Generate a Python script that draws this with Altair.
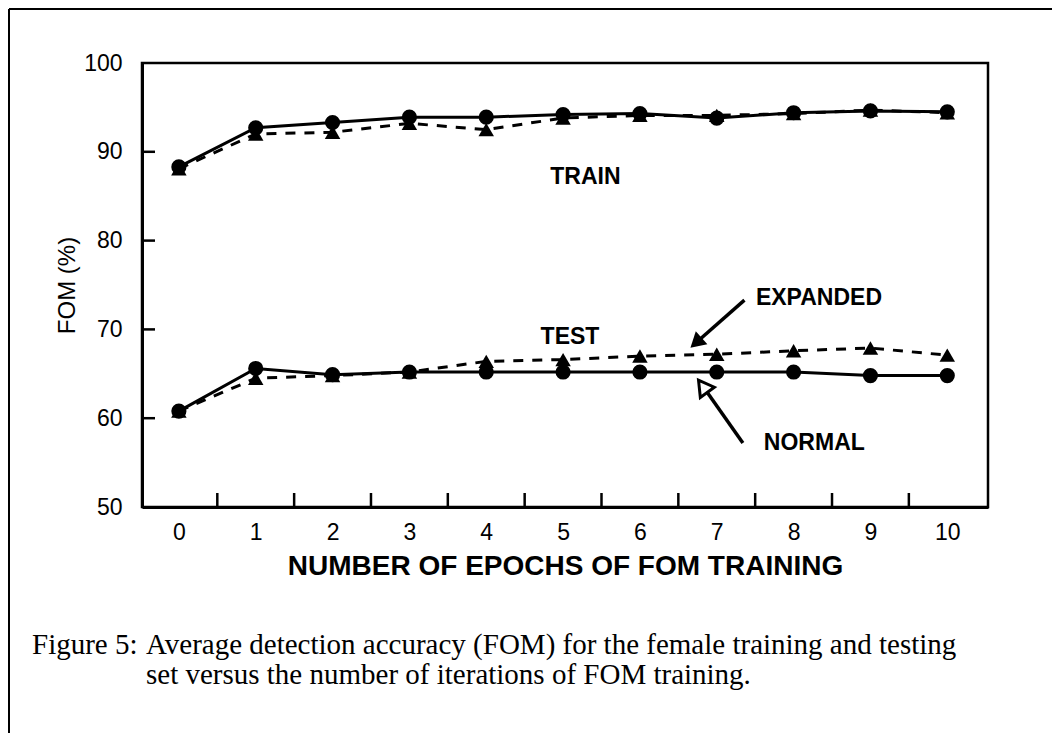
import altair as alt
import pandas as pd

epochs = list(range(11))
train_normal = [88.3, 92.7, 93.3, 93.9, 93.9, 94.2, 94.3, 93.8, 94.4, 94.6, 94.5]
train_expanded = [88.1, 92.0, 92.2, 93.2, 92.5, 93.8, 94.1, 94.1, 94.3, 94.7, 94.4]
test_normal = [60.8, 65.6, 64.9, 65.2, 65.2, 65.2, 65.2, 65.2, 65.2, 64.8, 64.8]
test_expanded = [60.8, 64.5, 64.8, 65.2, 66.4, 66.6, 67.0, 67.2, 67.6, 67.9, 67.1]

x_tick_labels = list(range(11))
y_tick_labels = [50, 60, 70, 80, 90, 100]
inner_y_ticks = [60, 70, 80, 90]
inner_x_ticks = [0.5, 1.5, 2.5, 3.5, 4.5, 5.5, 6.5, 7.5, 8.5, 9.5]

label_text = ["TRAIN", "TEST", "EXPANDED", "NORMAL"]
label_x = [5.29, 5.09, 8.33, 8.27]
label_y = [87.2, 69.1, 73.5, 57.2]

arrow_name = ["EXPANDED", "NORMAL"]
arrow_x0 = [7.36, 7.34]
arrow_y0 = [73.3, 57.2]
arrow_x1 = [6.73, 6.82]
arrow_y1 = [68.5, 63.6]

caption_label = "Figure 5:"
caption_lines = [
    "Average detection accuracy (FOM) for the female training and testing",
    "set versus the number of iterations of FOM training.",
]

W, H = 846, 444
PAD_L, PAD_T, PAD_R, PAD_B = 134, 55, 64, 226
X_TITLE = "NUMBER OF EPOCHS OF FOM TRAINING"
Y_TITLE = "FOM (%)"

rows = []
for i, e in enumerate(epochs):
    rows.append({"epoch": e, "fom": train_normal[i], "set": "train", "method": "normal"})
    rows.append({"epoch": e, "fom": train_expanded[i], "set": "train", "method": "expanded"})
    rows.append({"epoch": e, "fom": test_normal[i], "set": "test", "method": "normal"})
    rows.append({"epoch": e, "fom": test_expanded[i], "set": "test", "method": "expanded"})
df = pd.DataFrame(rows)
normal = df[df.method == "normal"]
expanded = df[df.method == "expanded"]

xscale = alt.Scale(domain=[-0.48, 10.53], nice=False, zero=False)
yscale = alt.Scale(domain=[50, 100], nice=False, zero=False)

x_axis = alt.Axis(
    values=x_tick_labels, format="d", tickSize=0, labelPadding=14, labelFontSize=23,
    labelFont="Liberation Sans", labelColor="black", grid=False,
    domainColor="black", domainWidth=3, titleFont="Liberation Sans",
    titleFontSize=28, titleFontWeight="bold", titleColor="black", titlePadding=8,
)
y_axis = alt.Axis(
    values=y_tick_labels, format="d", tickSize=0, labelPadding=20, labelFontSize=23,
    labelFont="Liberation Sans", labelColor="black", grid=False,
    domainColor="black", domainWidth=3, titleFont="Liberation Sans",
    titleFontSize=24, titleFontWeight="normal", titleColor="black", titlePadding=4,
)


def X(field):
    return alt.X(field, type="quantitative", scale=xscale, title=X_TITLE, axis=x_axis)


def Y(field):
    return alt.Y(field, type="quantitative", scale=yscale, title=Y_TITLE, axis=y_axis)


line_normal = alt.Chart(normal).mark_line(color="black", strokeWidth=3).encode(
    x=X("epoch"), y=Y("fom"), detail="set:N"
)
line_expanded = alt.Chart(expanded).mark_line(
    color="black", strokeWidth=3, strokeDash=[10, 9]
).encode(x=X("epoch"), y=Y("fom"), detail="set:N")
pts_expanded = alt.Chart(expanded).mark_point(
    shape="triangle-up", filled=True, color="black", size=240, opacity=1
).encode(x=X("epoch"), y=Y("fom"))
pts_normal = alt.Chart(normal).mark_point(
    shape="circle", filled=True, color="black", size=230, opacity=1
).encode(x=X("epoch"), y=Y("fom"))

ytick_df = pd.DataFrame({"v": inner_y_ticks})
yticks = alt.Chart(ytick_df).mark_rule(color="black", strokeWidth=2.5).encode(
    y=Y("v"), x=alt.value(0), x2=alt.value(13)
)
xtick_df = pd.DataFrame({"v": inner_x_ticks})
xticks = alt.Chart(xtick_df).mark_rule(color="black", strokeWidth=2.5).encode(
    x=X("v"), y=alt.value(H), y2=alt.value(H - 14)
)

lab_df = pd.DataFrame({"t": label_text, "x": label_x, "y": label_y})
labels = alt.Chart(lab_df).mark_text(
    font="Liberation Sans", fontSize=23, fontWeight="bold", color="black",
    align="center", baseline="middle"
).encode(x=X("x"), y=Y("y"), text="t:N")

arr_df = pd.DataFrame({"name": arrow_name, "x0": arrow_x0, "y0": arrow_y0,
                       "x1": arrow_x1, "y1": arrow_y1})
arrow_lines = alt.Chart(arr_df).mark_rule(color="black", strokeWidth=3.5).encode(
    x=X("x0"), y=Y("y0"), x2=alt.X2("x1"), y2=alt.Y2("y1")
)
head_exp = alt.Chart(arr_df[arr_df.name == "EXPANDED"]).mark_point(
    shape="triangle-up", filled=True, color="black", size=300, angle=228, opacity=1
).encode(x=X("x1"), y=Y("y1"))
head_norm = alt.Chart(arr_df[arr_df.name == "NORMAL"]).mark_point(
    shape="triangle-up", filled=True, fill="white", stroke="black", strokeWidth=3,
    size=300, angle=324, opacity=1
).encode(x=X("x1"), y=Y("y1"))

CAP_FS = 29
cap_label = alt.Chart(pd.DataFrame({"t": [caption_label]})).mark_text(
    font="Liberation Serif", fontSize=CAP_FS, color="black", align="left", baseline="alphabetic"
).encode(text="t:N", x=alt.value(32 - 142), y=alt.value(654 - 63))
cap_line1 = alt.Chart(pd.DataFrame({"t": [caption_lines[0]]})).mark_text(
    font="Liberation Serif", fontSize=CAP_FS, color="black", align="left", baseline="alphabetic"
).encode(text="t:N", x=alt.value(146 - 142), y=alt.value(654 - 63))
cap_line2 = alt.Chart(pd.DataFrame({"t": [caption_lines[1]]})).mark_text(
    font="Liberation Serif", fontSize=CAP_FS, color="black", align="left", baseline="alphabetic"
).encode(text="t:N", x=alt.value(146 - 142), y=alt.value(684 - 63))

border_top = alt.Chart(pd.DataFrame({"a": [0]})).mark_rule(color="black", strokeWidth=2).encode(
    x=alt.value(-PAD_L + 1), x2=alt.value(W + PAD_R), y=alt.value(-PAD_T + 1)
)
border_left = alt.Chart(pd.DataFrame({"a": [0]})).mark_rule(color="black", strokeWidth=2).encode(
    x=alt.value(-PAD_L + 1), y=alt.value(-PAD_T + 1), y2=alt.value(H + PAD_B)
)

chart = alt.layer(
    line_normal, line_expanded, pts_expanded, pts_normal, yticks, xticks,
    labels, arrow_lines, head_exp, head_norm, cap_label, cap_line1, cap_line2,
    border_top, border_left,
).properties(
    width=W, height=H,
    autosize=alt.AutoSizeParams(type="none"),
    padding={"left": PAD_L, "top": PAD_T, "right": PAD_R, "bottom": PAD_B},
    background="white",
).configure_view(stroke="black", strokeWidth=2.5)

chart.save("out.html", embed_options={"renderer": "svg", "actions": False})
